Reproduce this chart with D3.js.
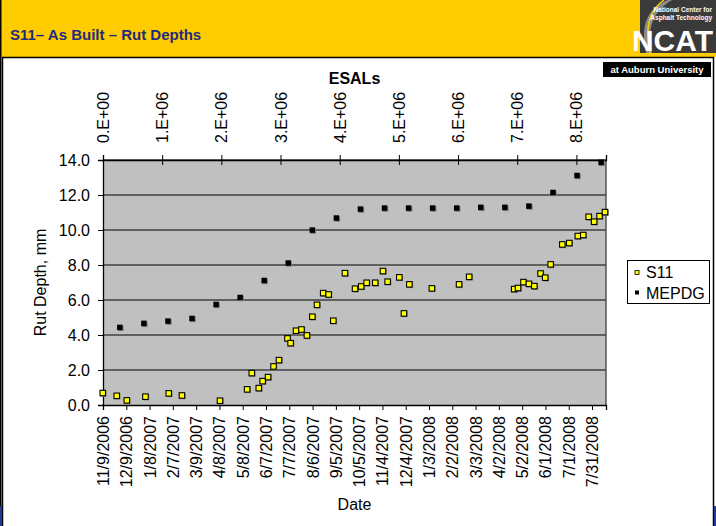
<!DOCTYPE html>
<html>
<head>
<meta charset="utf-8">
<script src="https://cdn.jsdelivr.net/npm/d3@7"></script>
<style>
  html, body { margin: 0; padding: 0; background: #ffffff; }
  svg { display: block; font-family: "Liberation Sans", Arial, sans-serif; }
</style>
</head>
<body>
<svg id="chart" width="716" height="526"></svg>
<script>
// Measured rut depths (mm) on section S11
const s11Dates = [
  "2006-11-09","2006-11-27","2006-12-10","2007-01-03","2007-02-02","2007-02-19",
  "2007-04-09","2007-05-14","2007-05-20","2007-05-29","2007-06-03","2007-06-10",
  "2007-06-17","2007-06-24","2007-07-05","2007-07-09","2007-07-16","2007-07-23",
  "2007-07-30","2007-08-06","2007-08-12","2007-08-20","2007-08-27","2007-09-02",
  "2007-09-17","2007-09-30","2007-10-08","2007-10-15","2007-10-26","2007-11-05",
  "2007-11-11","2007-11-26","2007-12-02","2007-12-09","2008-01-07","2008-02-11",
  "2008-02-24","2008-04-22","2008-04-27","2008-05-04","2008-05-11","2008-05-18",
  "2008-05-26","2008-06-01","2008-06-08","2008-06-23","2008-07-02","2008-07-13",
  "2008-07-20","2008-07-27","2008-08-03","2008-08-10","2008-08-17"
];
const s11Values = [
  0.67, 0.51, 0.25, 0.46, 0.65, 0.53,
  0.23, 0.88, 1.81, 0.95, 1.35, 1.58,
  2.19, 2.55, 3.79, 3.52, 4.23, 4.30,
  3.96, 5.03, 5.71, 6.38, 6.30, 4.80,
  7.52, 6.63, 6.76, 6.97, 6.97, 7.64,
  7.03, 7.28, 5.22, 6.88, 6.65, 6.88,
  7.31, 6.61, 6.67, 7.01, 6.91, 6.78,
  7.50, 7.26, 8.02, 9.16, 9.24, 9.64,
  9.70, 10.74, 10.46, 10.78, 11.01
];

// MEPDG predicted rut depths (mm)
const mepdgDates = [
  "2006-12-01","2007-01-01","2007-02-01","2007-03-04","2007-04-04","2007-05-05",
  "2007-06-05","2007-07-06","2007-08-06","2007-09-06","2007-10-07","2007-11-07",
  "2007-12-08","2008-01-08","2008-02-08","2008-03-10","2008-04-10","2008-05-11",
  "2008-06-11","2008-07-12","2008-08-12"
];
const mepdgValues = [
  4.42, 4.65, 4.78, 4.93, 5.73, 6.13,
  7.10, 8.10, 9.98, 10.67, 11.18, 11.24,
  11.24, 11.24, 11.24, 11.28, 11.28, 11.35,
  12.13, 13.10, 13.85
];

// Axis ticks
const dateTickLabels = [
  "11/9/2006","12/9/2006","1/8/2007","2/7/2007","3/9/2007","4/8/2007",
  "5/8/2007","6/7/2007","7/7/2007","8/6/2007","9/5/2007","10/5/2007",
  "11/4/2007","12/4/2007","1/3/2008","2/2/2008","3/3/2008","4/2/2008",
  "5/2/2008","6/1/2008","7/1/2008","7/31/2008"
];
const esalTicks = [0, 1e6, 2e6, 3e6, 4e6, 5e6, 6e6, 7e6, 8e6];
const esalTickLabels = ["0.E+00","1.E+06","2.E+06","3.E+06","4.E+06","5.E+06","6.E+06","7.E+06","8.E+06"];
const rutTicks = [0, 2, 4, 6, 8, 10, 12, 14];

const svg = d3.select("#chart");
const parseMDY = d3.timeParse("%m/%d/%Y");
const parseISO = d3.timeParse("%Y-%m-%d");

// ---- slide frame ----
svg.append("rect").attr("x", 0).attr("y", 0).attr("width", 716).attr("height", 526).attr("fill", "#ffffff");
svg.append("rect").attr("x", 0).attr("y", 0).attr("width", 716).attr("height", 57).attr("fill", "#FFCC00");
svg.append("rect").attr("x", 2.5).attr("y", 57.5).attr("width", 711).attr("height", 480)
  .attr("fill", "#ffffff").attr("stroke", "#000000").attr("stroke-width", 1.5);
svg.append("rect").attr("x", 0).attr("y", 0).attr("width", 1.5).attr("height", 526).attr("fill", "#000000");
// blue corner strips at the foot of the slide
svg.append("rect").attr("x", 0).attr("y", 506).attr("width", 2).attr("height", 20).attr("fill", "#1E3A9A");
svg.append("rect").attr("x", 714).attr("y", 506).attr("width", 2).attr("height", 20).attr("fill", "#1E3A9A");

svg.append("text").attr("x", 10).attr("y", 40)
  .attr("font-size", 15).attr("font-weight", "bold").attr("fill", "#1F2A80")
  .text("S11– As Built – Rut Depths");

// logo block
const logo = svg.append("g");
logo.append("rect").attr("x", 640).attr("y", 0).attr("width", 76).attr("height", 53).attr("fill", "#3a3a3a");
logo.append("path")
  .attr("d", "M668,0 C648,8 640,24 646,53 L652,53 C647,28 652,12 672,0 Z")
  .attr("fill", "#8c8c8c");
logo.append("path")
  .attr("d", "M664,0 C650,10 644,26 650,53")
  .attr("fill", "none").attr("stroke", "#FFCC00").attr("stroke-width", 1.5);
logo.append("text").attr("x", 712).attr("y", 12).attr("text-anchor", "end")
  .attr("font-size", 6.5).attr("font-weight", "bold").attr("fill", "#ffffff").text("National Center for");
logo.append("text").attr("x", 712).attr("y", 20).attr("text-anchor", "end")
  .attr("font-size", 6.5).attr("font-weight", "bold").attr("fill", "#ffffff").text("Asphalt Technology");
logo.append("text").attr("x", 713).attr("y", 51).attr("text-anchor", "end")
  .attr("font-size", 30).attr("font-weight", "bold").attr("fill", "#ffffff").text("NCAT");
logo.append("rect").attr("x", 603).attr("y", 62).attr("width", 108).attr("height", 15).attr("fill", "#000000");
logo.append("text").attr("x", 657).attr("y", 73).attr("text-anchor", "middle")
  .attr("font-size", 9.5).attr("font-weight", "bold").attr("fill", "#ffffff").text("at Auburn University");

// ---- plot ----
const pLeft = 103, pRight = 606, pTop = 160, pBottom = 405;
const x = d3.scaleTime()
  .domain([parseISO("2006-11-09"), parseISO("2008-08-18")])
  .range([pLeft, pRight]);
const xTop = d3.scaleLinear().domain([0, 8.5e6]).range([pLeft, pRight]);
const y = d3.scaleLinear().domain([0, 14]).range([pBottom, pTop]);

svg.append("rect").attr("x", pLeft).attr("y", pTop).attr("width", pRight - pLeft).attr("height", pBottom - pTop)
  .attr("fill", "#C0C0C0");

// gridlines
svg.append("g").selectAll("line").data(rutTicks.filter(d => d > 0)).join("line")
  .attr("x1", pLeft).attr("x2", pRight)
  .attr("y1", d => y(d)).attr("y2", d => y(d))
  .attr("stroke", "#404040").attr("stroke-width", 1.3);
// right border
svg.append("line").attr("x1", pRight).attr("x2", pRight).attr("y1", pTop).attr("y2", pBottom)
  .attr("stroke", "#404040").attr("stroke-width", 1.3);

// y axis
const yAxis = svg.append("g").attr("transform", `translate(${pLeft},0)`)
  .call(d3.axisLeft(y).tickValues(rutTicks).tickFormat(d3.format(".1f")).tickSize(5).tickPadding(8));
yAxis.select(".domain").attr("stroke", "#000").attr("stroke-width", 1.3);
yAxis.selectAll(".tick line").attr("stroke", "#000");
yAxis.selectAll("text").attr("font-size", 16).attr("fill", "#000").attr("font-family", "Liberation Sans, Arial, sans-serif");

// bottom date axis
const dateTicks = dateTickLabels.map(parseMDY);
const xAxis = svg.append("g").attr("transform", `translate(0,${pBottom})`)
  .call(d3.axisBottom(x).tickValues(dateTicks).tickFormat((d, i) => dateTickLabels[i]).tickSize(5));
xAxis.select(".domain").attr("stroke", "#000").attr("stroke-width", 1.3);
xAxis.selectAll(".tick line").attr("stroke", "#000");
xAxis.selectAll("text")
  .attr("font-size", 16).attr("fill", "#000").attr("font-family", "Liberation Sans, Arial, sans-serif")
  .attr("text-anchor", "end").attr("dy", null).attr("y", 0)
  .attr("transform", "translate(5.5,11) rotate(-90)");

// top ESAL axis
const xTopAxis = svg.append("g").attr("transform", `translate(0,${pTop})`)
  .call(d3.axisTop(xTop).tickValues(esalTicks).tickFormat((d, i) => esalTickLabels[i]).tickSize(5));
xTopAxis.select(".domain").attr("stroke", "#000").attr("stroke-width", 1.3);
xTopAxis.selectAll(".tick line").attr("stroke", "#000").attr("y2", -5).attr("y1", 5);
xTopAxis.selectAll("text")
  .attr("font-size", 16).attr("fill", "#000").attr("font-family", "Liberation Sans, Arial, sans-serif")
  .attr("text-anchor", "start").attr("dy", null).attr("y", 0)
  .attr("transform", "translate(5.5,-17) rotate(-90)");

// axis titles
svg.append("text").attr("x", (pLeft + pRight) / 2).attr("y", 84).attr("text-anchor", "middle")
  .attr("font-size", 16).attr("font-weight", "bold").text("ESALs");
svg.append("text").attr("x", (pLeft + pRight) / 2).attr("y", 510).attr("text-anchor", "middle")
  .attr("font-size", 16).text("Date");
svg.append("text").attr("transform", `translate(46,${(pTop + pBottom) / 2}) rotate(-90)`)
  .attr("text-anchor", "middle").attr("font-size", 16).text("Rut Depth, mm");

// markers
const s11 = s11Dates.map((d, i) => ({ date: parseISO(d), v: s11Values[i] }));
const mepdg = mepdgDates.map((d, i) => ({ date: parseISO(d), v: mepdgValues[i] }));

const mg = svg.append("g");
mg.selectAll("rect.mshadow").data(mepdg).join("rect").attr("class", "mshadow")
  .attr("x", d => x(d.date) - 2).attr("y", d => y(d.v) - 2).attr("width", 5.5).attr("height", 5.5)
  .attr("fill", "#808080");
mg.selectAll("rect.m").data(mepdg).join("rect").attr("class", "m")
  .attr("x", d => x(d.date) - 3).attr("y", d => y(d.v) - 3).attr("width", 5.5).attr("height", 5.5)
  .attr("fill", "#000000");

const sg = svg.append("g");
sg.selectAll("rect.sshadow").data(s11).join("rect").attr("class", "sshadow")
  .attr("x", d => x(d.date) - 2.5).attr("y", d => y(d.v) - 2.5).attr("width", 6).attr("height", 6)
  .attr("fill", "#808080");
sg.selectAll("rect.s").data(s11).join("rect").attr("class", "s")
  .attr("x", d => x(d.date) - 3).attr("y", d => y(d.v) - 3).attr("width", 5.5).attr("height", 5.5)
  .attr("fill", "#FFFF00").attr("stroke", "#000000").attr("stroke-width", 1.1);

// legend
const lg = svg.append("g");
lg.append("rect").attr("x", 627.5).attr("y", 260.5).attr("width", 82).attr("height", 43)
  .attr("fill", "#ffffff").attr("stroke", "#000").attr("stroke-width", 1);
lg.append("rect").attr("x", 635).attr("y", 270.5).attr("width", 4).attr("height", 4)
  .attr("fill", "#FFFF00").attr("stroke", "#000").attr("stroke-width", 0.8);
lg.append("rect").attr("x", 635).attr("y", 290.5).attr("width", 4).attr("height", 4).attr("fill", "#000");
lg.append("text").attr("x", 646).attr("y", 278).attr("font-size", 16).text("S11");
lg.append("text").attr("x", 646).attr("y", 298.5).attr("font-size", 16).text("MEPDG");
</script>
</body>
</html>
